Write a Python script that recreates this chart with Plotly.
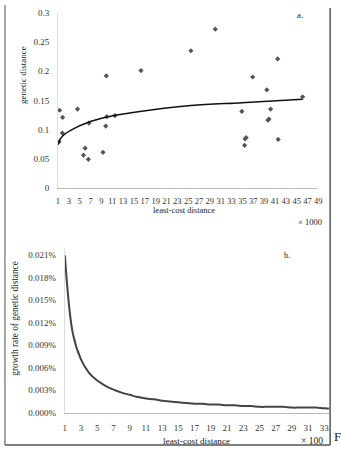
import plotly.graph_objects as go

W, H = 341, 455

# ---- Panel a: genetic distance vs least-cost distance (x1000) ----
pts_x = [1.2, 1.3, 1.85, 1.8, 4.6, 5.7, 6.0, 6.6, 6.7, 9.3, 9.8, 9.9, 10.0, 11.5,
         16.3, 25.5, 30.0, 34.9, 35.4, 35.5, 35.7, 36.9, 39.5, 39.7, 39.9, 40.2,
         41.5, 41.6, 46.1]
pts_y = [0.079, 0.133, 0.121, 0.094, 0.135, 0.056, 0.068, 0.049, 0.111, 0.061, 0.106,
         0.192, 0.122, 0.124, 0.201, 0.235, 0.272, 0.131, 0.073, 0.084, 0.086, 0.190,
         0.168, 0.116, 0.118, 0.135, 0.221, 0.083, 0.156]

trend_x = [1.0, 1.25, 1.85, 3.4, 6.7, 10.3, 14.8, 25.5, 34.9, 46.1]
trend_y = [0.074, 0.081, 0.089, 0.099, 0.113, 0.122, 0.129, 0.141, 0.146, 0.152]

a_xticks = list(range(1, 50, 2))
a_yticks = [0, 0.05, 0.1, 0.15, 0.2, 0.25, 0.3]
a_yticktext = ["0", "0.05", "0.1", "0.15", "0.2", "0.25", "0.3"]

# ---- Panel b: growth rate (%) vs least-cost distance (x100) ----
b_x = list(range(1, 35))
b_y = [0.0210, 0.0105, 0.0071, 0.0053, 0.0043, 0.0036, 0.0031, 0.0027, 0.0024, 0.0021,
       0.0019, 0.0018, 0.0016, 0.0015, 0.0014, 0.0013, 0.0012, 0.0012, 0.0011, 0.0011,
       0.0010, 0.0010, 0.0009, 0.0009, 0.0008, 0.0008, 0.0008, 0.0008, 0.0007, 0.0007,
       0.0007, 0.0007, 0.0006, 0.0006]
b_xticks = list(range(1, 34, 2))
b_yticks = [0, 0.003, 0.006, 0.009, 0.012, 0.015, 0.018, 0.021]
b_yticktext = ["0.000%", "0.003%", "0.006%", "0.009%", "0.012%", "0.015%", "0.018%", "0.021%"]

FONT = "Liberation Serif"

def px(x):
    return x / W

def py(y):
    return 1 - y / H

fig = go.Figure()
fig.add_trace(go.Scatter(x=pts_x, y=pts_y, mode="markers",
                         marker=dict(symbol="diamond", size=4, color="#555"),
                         xaxis="x", yaxis="y", showlegend=False))
fig.add_trace(go.Scatter(x=trend_x, y=trend_y, mode="lines", line_shape="spline",
                         line=dict(color="#111", width=1.5),
                         xaxis="x", yaxis="y", showlegend=False))
fig.add_trace(go.Scatter(x=b_x, y=b_y, mode="lines", line_shape="spline",
                         line=dict(color="#444", width=2),
                         xaxis="x2", yaxis="y2", showlegend=False))

tick_font = dict(family=FONT, size=9, color="#333")
tick_font_small = dict(family=FONT, size=8.5, color="#333")

fig.update_layout(
    width=W, height=H, margin=dict(l=0, r=0, t=0, b=0),
    paper_bgcolor="white", plot_bgcolor="white",
    font=dict(family=FONT, color="#222"),
    xaxis=dict(domain=[px(57), px(322)], anchor="y", range=[1, 49],
               tickvals=a_xticks, tickangle=0, showgrid=False, zeroline=False,
               showline=True, linecolor="#bbb", linewidth=1, ticks="",
               tickfont=tick_font_small, ticklabelstandoff=5),
    yaxis=dict(domain=[py(187), py(8)], anchor="x", range=[0, 0.3],
               tickvals=a_yticks, ticktext=a_yticktext, showgrid=False,
               zeroline=False, showline=True, linecolor="#ddd", linewidth=1,
               ticks="", tickfont=tick_font, ticklabelstandoff=6),
    xaxis2=dict(domain=[px(64), px(333)], anchor="y2", range=[1, 33.6],
                tickvals=b_xticks, tickangle=0, showgrid=False, zeroline=False,
                showline=True, linecolor="#bbb", linewidth=1, ticks="",
                tickfont=tick_font, ticklabelstandoff=6),
    yaxis2=dict(domain=[py(417), py(248.3)], anchor="x2", range=[0, 0.022],
                tickvals=b_yticks, ticktext=b_yticktext,
                showgrid=False, zeroline=False, showline=True, linecolor="#ddd",
                linewidth=1, ticks="", tickfont=tick_font, ticklabelstandoff=6),
)

def ann(text, x, y, size=9, angle=0, xanchor="center"):
    fig.add_annotation(text=text, x=px(x), y=py(y), xref="paper", yref="paper",
                       showarrow=False, textangle=angle, xanchor=xanchor,
                       yanchor="middle", font=dict(family=FONT, size=size, color="#222"))

ann("genetic distance", 22, 72, size=9, angle=-90)
ann("least-cost distance", 185, 210, size=8.5)
ann("× 1000", 314, 222, size=8.5)
ann("a.", 303, 10, size=9)
ann("growth rate of genetic distance", 13, 320, size=9.3, angle=-90)
ann("least-cost distance", 198, 446, size=9.2)
ann("× 100", 316, 446, size=9.5)
ann("b.", 290, 256, size=8.5)
ann("F", 336, 441, size=13, xanchor="left")

border = dict(color="#555", width=1.5)
fig.add_shape(type="line", xref="paper", yref="paper", x0=px(3), x1=px(3),
              y0=py(0), y1=py(450), line=dict(color="#888", width=1.5))
fig.add_shape(type="line", xref="paper", yref="paper", x0=px(334), x1=px(334),
              y0=py(3), y1=py(450), line=border)
fig.add_shape(type="line", xref="paper", yref="paper", x0=px(3), x1=px(334),
              y0=py(450), y1=py(450), line=border)

fig.write_html("out.html")
